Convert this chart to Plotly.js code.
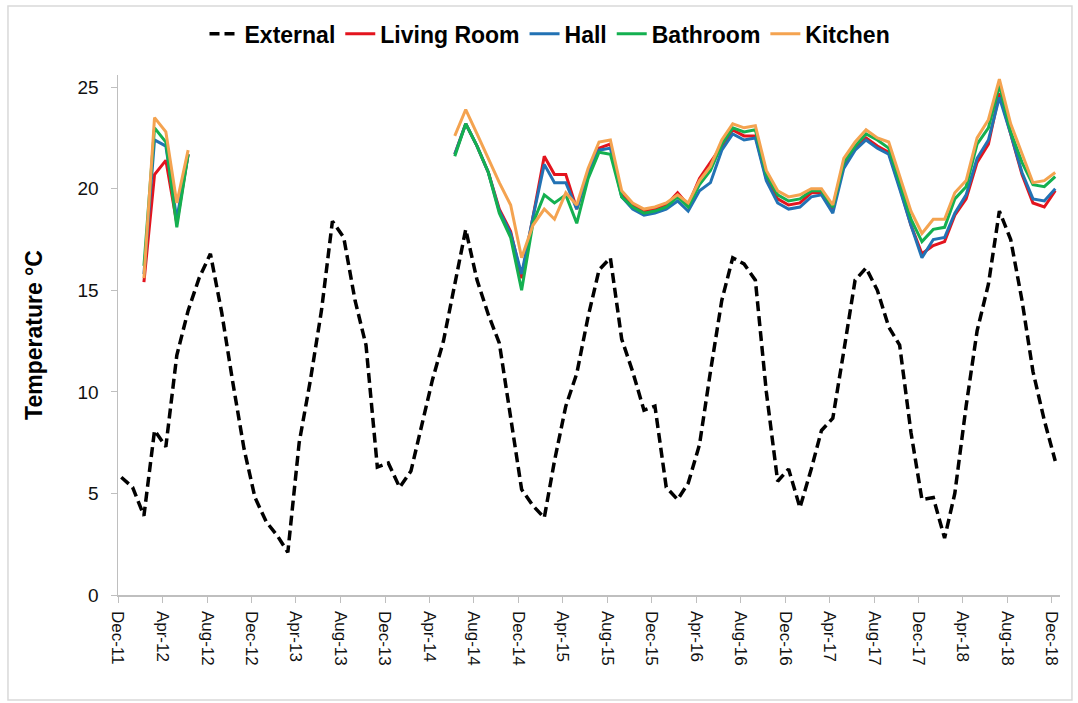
<!DOCTYPE html>
<html>
<head>
<meta charset="utf-8">
<script src="https://cdn.plot.ly/plotly-3.0.1.min.js"></script>
<style>html,body{margin:0;padding:0;background:#fff;}#chart{width:1078px;height:703px;}</style>
</head>
<body>
<div id="chart"></div>
<script>
// Monthly readings, Dec-11 .. Dec-18
const months = [
  "2011-12",
  "2012-01","2012-02","2012-03","2012-04","2012-05","2012-06","2012-07","2012-08","2012-09","2012-10","2012-11","2012-12",
  "2013-01","2013-02","2013-03","2013-04","2013-05","2013-06","2013-07","2013-08","2013-09","2013-10","2013-11","2013-12",
  "2014-01","2014-02","2014-03","2014-04","2014-05","2014-06","2014-07","2014-08","2014-09","2014-10","2014-11","2014-12",
  "2015-01","2015-02","2015-03","2015-04","2015-05","2015-06","2015-07","2015-08","2015-09","2015-10","2015-11","2015-12",
  "2016-01","2016-02","2016-03","2016-04","2016-05","2016-06","2016-07","2016-08","2016-09","2016-10","2016-11","2016-12",
  "2017-01","2017-02","2017-03","2017-04","2017-05","2017-06","2017-07","2017-08","2017-09","2017-10","2017-11","2017-12",
  "2018-01","2018-02","2018-03","2018-04","2018-05","2018-06","2018-07","2018-08","2018-09","2018-10","2018-11","2018-12"
];

const external = [
  5.8,
  5.3,3.9,8.1,7.3,11.8,14.0,15.6,16.8,13.9,10.5,7.2,4.8,
  3.6,2.9,2.1,7.5,10.5,14.0,18.4,17.6,14.5,12.3,6.3,6.5,
  5.3,6.1,8.3,10.6,12.5,15.3,18.0,15.5,13.8,12.4,8.8,5.2,
  4.4,3.8,6.6,9.3,10.9,13.7,16.0,16.6,12.6,11.0,9.1,9.3,
  5.3,4.7,5.5,7.4,11.0,14.5,16.6,16.3,15.5,10.0,5.6,6.2,
  4.3,6.2,8.1,8.7,12.0,15.5,16.1,15.0,13.2,12.3,8.0,4.7,
  4.8,2.8,5.0,9.3,13.0,15.3,18.9,17.5,14.5,11.0,8.6,6.6
];

const livingRoom = [
  null,
  null,15.4,20.7,21.4,18.3,21.7,null,null,null,null,null,null,
  null,null,null,null,null,null,null,null,null,null,null,null,
  null,null,null,null,null,21.7,23.2,22.1,20.8,19.0,17.9,15.6,
  18.6,21.6,20.7,20.7,19.0,20.8,22.0,22.2,19.7,19.2,18.9,19.0,
  19.2,19.8,19.2,20.5,21.3,22.1,22.9,22.6,22.6,20.5,19.5,19.2,
  19.3,19.8,19.8,19.0,21.2,22.0,22.5,22.1,21.8,20.1,18.2,16.8,
  17.2,17.4,18.7,19.5,21.3,22.2,24.7,22.7,20.7,19.3,19.1,19.9
];

const hall = [
  null,
  null,15.8,22.4,22.1,18.5,21.7,null,null,null,null,null,null,
  null,null,null,null,null,null,null,null,null,null,null,null,
  null,null,null,null,null,21.7,23.2,22.1,20.8,18.9,17.8,15.8,
  18.6,21.2,20.3,20.3,19.0,20.8,21.9,22.0,19.6,19.0,18.7,18.8,
  19.0,19.4,18.9,19.9,20.3,21.9,22.7,22.4,22.5,20.4,19.3,19.0,
  19.1,19.6,19.7,18.8,21.0,21.9,22.4,22.0,21.7,20.0,18.2,16.6,
  17.5,17.6,18.8,19.7,21.5,22.4,24.5,22.7,20.8,19.5,19.4,20.0
];

const bathroom = [
  null,
  null,16.2,23.0,22.3,18.1,21.7,null,null,null,null,null,null,
  null,null,null,null,null,null,null,null,null,null,null,null,
  null,null,null,null,null,21.6,23.2,22.1,20.8,18.8,17.6,15.0,
  18.3,19.7,19.3,19.7,18.3,20.5,21.8,21.7,19.6,19.1,18.8,18.9,
  19.1,19.6,19.1,20.2,20.9,22.2,23.0,22.8,22.9,20.7,19.7,19.4,
  19.5,19.9,19.9,19.1,21.3,22.1,22.7,22.4,22.0,20.3,18.5,17.4,
  18.0,18.1,19.5,20.1,22.2,23.0,25.1,22.8,21.3,20.2,20.1,20.6
];

const kitchen = [
  null,
  null,15.6,23.5,22.8,19.3,21.9,null,null,null,null,null,null,
  null,null,null,null,null,null,null,null,null,null,null,null,
  null,null,null,null,null,22.6,23.9,22.7,21.5,20.3,19.2,16.6,
  18.2,19.0,18.5,19.8,19.2,21.0,22.3,22.4,19.9,19.3,19.0,19.1,
  19.3,19.7,19.3,20.4,21.1,22.4,23.2,23.0,23.1,20.9,19.9,19.6,
  19.7,20.0,20.0,19.2,21.5,22.3,22.9,22.5,22.3,20.6,18.9,17.8,
  18.5,18.5,19.8,20.4,22.5,23.4,25.4,23.2,21.7,20.3,20.4,20.8
];

const seriesNames = ["External","Living Room","Hall","Bathroom","Kitchen"];
const yTicks = [0,5,10,15,20,25];

// points sit a little after the first of each month
const xDates = months.map(m => m + "-10");

const colors = ["#000000","#E3141E","#2272B4","#14B050","#F4A350"];
const values = [external, livingRoom, hall, bathroom, kitchen];

const traces = values.map((v, k) => ({
  type: "scatter",
  mode: "lines",
  name: seriesNames[k],
  x: xDates,
  y: v,
  connectgaps: false,
  line: k === 0
    ? {color: colors[k], width: 3.5, dash: "10px,5px"}
    : {color: colors[k], width: 3}
}));

const axisGray = "#BFBFBF";
const layout = {
  width: 1078,
  height: 703,
  margin: {l: 118, r: 18, t: 75, b: 108},
  paper_bgcolor: "#ffffff",
  plot_bgcolor: "#ffffff",
  showlegend: true,
  legend: {
    orientation: "h",
    x: 0.4586, xanchor: "center",
    y: 1.079, yanchor: "middle",
    font: {family: "Liberation Sans, Arial", size: 23, weight: "bold", color: "#000"},
    itemwidth: 30,
    traceorder: "normal"
  },
  xaxis: {
    type: "date",
    range: ["2011-12-01", "2018-12-23"],
    tick0: "2011-12-01",
    dtick: "M4",
    tickformat: "%b-%y",
    tickangle: 90,
    ticks: "outside",
    ticklen: 6,
    tickcolor: axisGray,
    showline: true,
    linecolor: axisGray,
    linewidth: 1.5,
    showgrid: false,
    zeroline: false,
    ticklabelstandoff: 5,
    tickfont: {family: "Liberation Sans, Arial", size: 17, color: "#111"}
  },
  yaxis: {
    range: [0, 25.6],
    tickvals: yTicks,
    ticktext: yTicks.map(String),
    ticks: "outside",
    ticklen: 6,
    tickcolor: axisGray,
    showline: true,
    linecolor: axisGray,
    linewidth: 1.5,
    showgrid: false,
    zeroline: false,
    ticklabelstandoff: 8,
    tickfont: {family: "Liberation Sans, Arial", size: 19, color: "#111"},
    title: {
      text: "Temperature °C",
      font: {family: "Liberation Sans, Arial", size: 23, weight: "bold", color: "#000"},
      standoff: 28
    }
  },
  shapes: [{
    type: "rect", xref: "paper", yref: "paper",
    x0: -0.1168, x1: 1.0127, y0: -0.2019, y1: 1.1327,
    line: {color: "#D9D9D9", width: 1.5}
  }]
};

Plotly.newPlot("chart", traces, layout, {staticPlot: true, displayModeBar: false});
</script>
</body>
</html>
